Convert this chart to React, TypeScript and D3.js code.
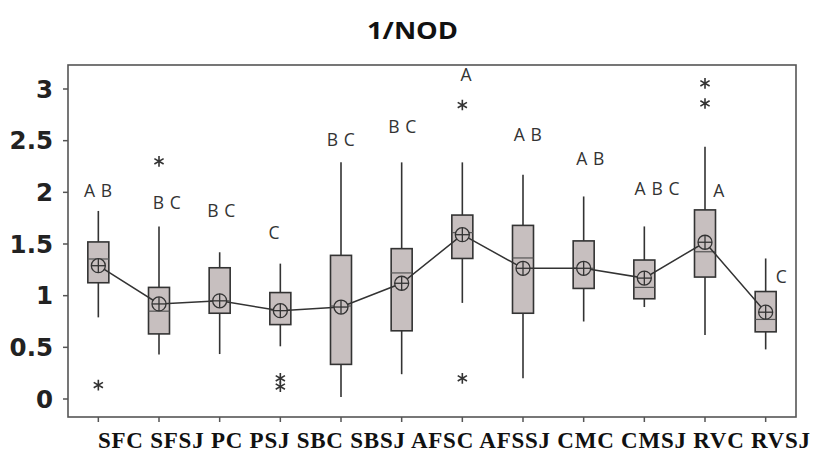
import React from 'react';
import * as d3 from 'd3';

const categories = ['SFC', 'SFSJ', 'PC', 'PSJ', 'SBC', 'SBSJ', 'AFSC', 'AFSSJ', 'CMC', 'CMSJ', 'RVC', 'RVSJ'];
const whiskerLow = [0.79, 0.43, 0.435, 0.51, 0.02, 0.24, 0.93, 0.2, 0.75, 0.89, 0.62, 0.48];
const q1 = [1.125, 0.63, 0.83, 0.72, 0.335, 0.66, 1.36, 0.83, 1.07, 0.97, 1.18, 0.65];
const medians = [1.355, 0.85, 0.95, 0.86, 0.9, 1.22, 1.61, 1.365, 1.265, 1.08, 1.425, 0.77];
const q3 = [1.52, 1.08, 1.27, 1.03, 1.39, 1.455, 1.78, 1.68, 1.53, 1.345, 1.83, 1.04];
const whiskerHigh = [1.82, 1.67, 1.42, 1.31, 2.29, 2.29, 2.29, 2.17, 1.96, 1.67, 2.44, 1.36];
const means = [1.29, 0.92, 0.95, 0.855, 0.89, 1.12, 1.59, 1.265, 1.265, 1.17, 1.517, 0.84];
const outliers = [[0.135], [2.3], [], [0.2, 0.12], [], [], [2.845, 0.2], [], [], [], [3.055, 2.86], []];
const letters = ['A B', 'B C', 'B C', 'C', 'B C', 'B C', 'A', 'A B', 'A B', 'A B C', 'A', 'C'];
const letterAt = [2.02, 1.9, 1.82, 1.61, 2.51, 2.635, 3.14, 2.555, 2.33, 2.04, 2.02, 1.18];
const yTicks = [0, 0.5, 1, 1.5, 2, 2.5, 3];
const yTickLabels = ['0', '0.5', '1', '1.5', '2', '2.5', '3'];

// small horizontal nudges for the letter groups, as in the original figure
const letterShift = [0, 8, 2, -6, 0, 1, 4, 5, 7, 13, 14, 16];

const frame = { left: 68, top: 65, right: 796, bottom: 417 };
const ink = '#333';
const boxFill = '#c7bfbf';

export default function App() {
  const x = d3.scalePoint<string>().domain(categories).range([frame.left, frame.right]).padding(0.5);
  const y = d3.scaleLinear().domain([0, 3]).range([399, 89]);
  const boxW = 21;

  const meanLine = d3.line<number>()
    .x((d, i) => x(categories[i]) as number)
    .y(d => y(d));

  const star = d3.symbol().type(d3.symbolAsterisk).size(80)();

  return (
    <svg width={825} height={455} style={{ position: 'absolute', left: 0, top: 0, background: '#fff' }}>
      <text x={367} y={39} textLength={91} lengthAdjust="spacingAndGlyphs" fontFamily="'Open Sans', sans-serif"
        fontWeight={700} fontSize={24} fill="#111">1/NOD</text>

      <rect x={frame.left} y={frame.top} width={frame.right - frame.left} height={frame.bottom - frame.top}
        fill="none" stroke="#555" strokeWidth={1.6} />

      {yTicks.map((t, i) => (
        <g key={'yt' + i}>
          <line x1={frame.left - 5} x2={frame.left} y1={y(t)} y2={y(t)} stroke="#555" strokeWidth={1.5} />
          <text x={53} y={y(t)} dy="0.36em" textAnchor="end" fontFamily="'DejaVu Sans', sans-serif"
            fontWeight={700} fontSize={24.5} fill="#222">{yTickLabels[i]}</text>
        </g>
      ))}

      {categories.map(c => (
        <line key={'xt' + c} x1={x(c)} x2={x(c)} y1={frame.bottom} y2={frame.bottom + 5} stroke="#555" strokeWidth={1.5} />
      ))}

      <text x={98} y={448} textLength={712} lengthAdjust="spacing" fontFamily="'Liberation Serif', serif"
        fontWeight={700} fontSize={23} fill="#111">{categories.join(' ')}</text>

      {categories.map((c, i) => {
        const cx = x(c) as number;
        return (
          <g key={'box' + c}>
            <line x1={cx} x2={cx} y1={y(whiskerHigh[i])} y2={y(q3[i])} stroke={ink} strokeWidth={1.6} />
            <line x1={cx} x2={cx} y1={y(q1[i])} y2={y(whiskerLow[i])} stroke={ink} strokeWidth={1.6} />
            <rect x={cx - boxW / 2} y={y(q3[i])} width={boxW} height={y(q1[i]) - y(q3[i])}
              fill={boxFill} stroke={ink} strokeWidth={1.6} />
            <line x1={cx - boxW / 2} x2={cx + boxW / 2} y1={y(medians[i])} y2={y(medians[i])} stroke="#555" strokeWidth={1.2} />
            {outliers[i].map((o, k) => (
              <path key={k} d={star} transform={`translate(${cx},${y(o)})`} fill="none" stroke={ink} strokeWidth={1.6} />
            ))}
          </g>
        );
      })}

      <path d={meanLine(means) as string} fill="none" stroke={ink} strokeWidth={1.5} />

      {categories.map((c, i) => {
        const cx = x(c) as number;
        const cy = y(means[i]);
        return (
          <g key={'mean' + c} stroke={ink} strokeWidth={1.3}>
            <circle cx={cx} cy={cy} r={7} fill={boxFill} />
            <line x1={cx - 7} x2={cx + 7} y1={cy} y2={cy} />
            <line x1={cx} x2={cx} y1={cy - 7} y2={cy + 7} />
          </g>
        );
      })}

      {categories.map((c, i) => (
        <text key={'lt' + c} x={(x(c) as number) + letterShift[i]} y={y(letterAt[i])} dy="0.36em"
          textAnchor="middle" fontFamily="'Open Sans', sans-serif" fontSize={17.5} letterSpacing={0.6}
          fill="#333">{letters[i]}</text>
      ))}
    </svg>
  );
}
